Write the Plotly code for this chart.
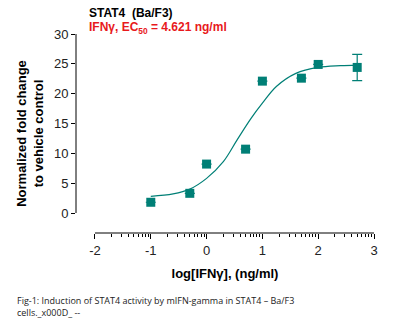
import plotly.graph_objects as go
import numpy as np

# Data points (log10 concentration, ng/ml) and normalized fold change
log_conc = [-1.0, -0.301, 0.0, 0.699, 1.0, 1.699, 2.0, 2.699]
fold_change = [1.8, 3.3, 8.2, 10.7, 22.1, 22.6, 24.9, 24.4]
error = [0, 0, 0, 0, 0, 0, 0, 2.2]

# Fitted curve
curve_x = [-1.0, -0.6, -0.3, 0.0, 0.3, 0.55, 0.8, 1.0, 1.25, 1.6, 2.0, 2.4, 2.7]
curve_y = [2.8, 3.2, 4.0, 5.8, 8.6, 12.3, 15.9, 18.4, 21.2, 23.4, 24.4, 24.7, 24.8]

x_ticks = [-2, -1, 0, 1, 2, 3]
x_tick_labels = ["-2", "-1", "0", "1", "2", "3"]
y_ticks = [0, 5, 10, 15, 20, 25, 30]

teal = "#007f76"
font_family = "Liberation Sans, Arial, sans-serif"

minor_vals = [d + np.log10(k) for d in range(-2, 3) for k in range(2, 10)]

fig = go.Figure()
fig.add_trace(go.Scatter(x=curve_x, y=curve_y, mode="lines",
                         line=dict(color=teal, width=1.2, shape="spline"),
                         hoverinfo="skip", showlegend=False))
fig.add_trace(go.Scatter(x=log_conc, y=fold_change, mode="markers",
                         marker=dict(symbol="square", size=9, color=teal),
                         error_y=dict(type="data", array=error, visible=True,
                                      color=teal, thickness=1.2, width=5),
                         showlegend=False))

fig.update_layout(
    width=410, height=327,
    margin=dict(l=76, r=36, t=34, b=94),
    paper_bgcolor="white", plot_bgcolor="white",
    font=dict(family=font_family, color="#222"),
    xaxis=dict(range=[-2.34, 3], tickvals=x_ticks, ticktext=x_tick_labels,
               ticks="outside", ticklen=5,
               tickwidth=1, tickcolor="black", showgrid=False, zeroline=False,
               showline=False, tickfont=dict(size=13, color="#222"),
               minor=dict(tickvals=minor_vals, ticks="outside", ticklen=3,
                          tickcolor="black", showgrid=False),
               title=dict(text="<b>log[IFNγ], (ng/ml)</b>",
                          font=dict(size=13, color="black"), standoff=12)),
    yaxis=dict(range=[-3.35, 30], tickvals=y_ticks, ticks="outside", ticklen=4,
               tickwidth=1, tickcolor="black", showgrid=False, zeroline=False,
               showline=False, tickfont=dict(size=13, color="#222"),
               title=dict(text="<b>Normalized fold change<br>to vehicle control</b>",
                          font=dict(size=13, color="black"), standoff=7)),
)

# Prism-style offset axis lines
fig.add_shape(type="line", xref="paper", yref="y", x0=0, x1=0, y0=0, y1=30,
              line=dict(color="black", width=1))
fig.add_shape(type="line", xref="x", yref="paper", x0=-2, x1=3, y0=0, y1=0,
              line=dict(color="black", width=1))

fig.add_annotation(text="<b>STAT4  (Ba/F3)</b>", xref="paper", yref="paper",
                   x=(87 - 76) / 298, y=1 + (34 - 13) / 199, xanchor="left", yanchor="middle",
                   showarrow=False, font=dict(size=12, color="black"))
fig.add_annotation(text="<b>IFNγ, EC<sub>50</sub> = 4.621 ng/ml</b>", xref="paper", yref="paper",
                   x=(87 - 76) / 298, y=1 + (34 - 28) / 199, xanchor="left", yanchor="middle",
                   showarrow=False, font=dict(size=12, color="#e8191c"))
fig.add_annotation(text="Fig-1: Induction of STAT4 activity by mIFN-gamma in STAT4 – Ba/F3<br>cells._x000D_ --",
                   xref="paper", yref="paper", x=(15 - 76) / 298, y=-(306 - 233) / 199,
                   xanchor="left", yanchor="middle", align="left", showarrow=False,
                   font=dict(size=9, color="#222", family="Open Sans, sans-serif"))

fig.write_html("out.html")
